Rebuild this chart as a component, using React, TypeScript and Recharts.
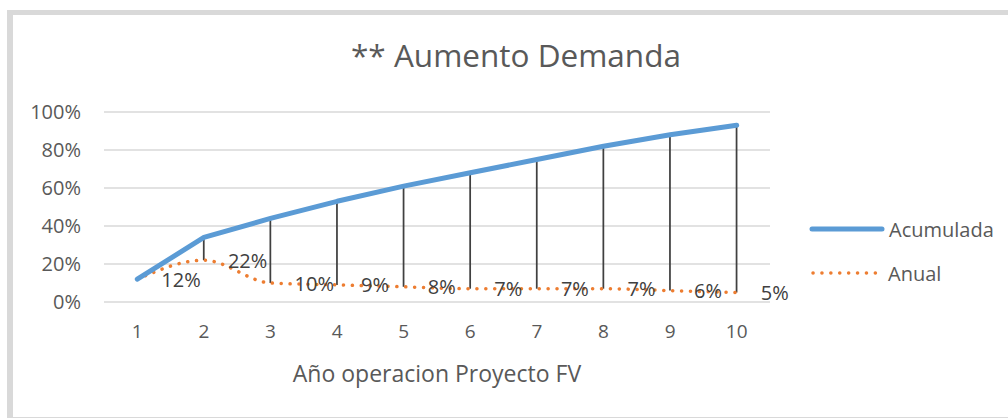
import React from "react";
import {
  ComposedChart,
  Line,
  Bar,
  XAxis,
  YAxis,
  CartesianGrid,
  Legend,
  LabelList,
  Label,
} from "recharts";

const years = ["1", "2", "3", "4", "5", "6", "7", "8", "9", "10"];
const acumulada = [12, 34, 44, 53, 61, 68, 75, 82, 88, 93];
const anual = [12, 22, 10, 9, 8, 7, 7, 7, 6, 5];
const yTicks = [0, 20, 40, 60, 80, 100];

const TITLE = "** Aumento Demanda";
const X_TITLE = "Año operacion Proyecto FV";

const BLUE = "#5B9BD5";
const ORANGE = "#ED7D31";
const TEXT = "#595959";
const FONT = "'Open Sans', sans-serif";

const data = years.map((y, i) => ({
  year: y,
  acumulada: acumulada[i],
  anual: anual[i],
  range: [anual[i], acumulada[i]],
}));

const HighLow = (props: any) => {
  const { x, y, width, height } = props;
  if (x == null || y == null) return null;
  const cx = x + width / 2;
  return (
    <line x1={cx} x2={cx} y1={y} y2={y + height} stroke="#404040" strokeWidth={1.75} />
  );
};

const AnualLabel = (props: any) => {
  const { x, y, value } = props;
  return (
    <text
      x={x + 24}
      y={y}
      dominantBaseline="central"
      fontSize={20}
      fontFamily={FONT}
      fill="#404040"
    >
      {value}%
    </text>
  );
};

const LegendContent = () => (
  <svg width={200} height={80} style={{ display: "block" }}>
    <line x1={7} x2={77} y1={18} y2={18} stroke={BLUE} strokeWidth={5} strokeLinecap="round" />
    <text x={84} y={18} dominantBaseline="central" fontSize={20} fontFamily={FONT} fill={TEXT}>
      Acumulada
    </text>
    <line
      x1={8}
      x2={72}
      y1={62}
      y2={62}
      stroke={ORANGE}
      strokeWidth={3.5}
      strokeLinecap="round"
      strokeDasharray="0.1 8.8"
    />
    <text x={83} y={62} dominantBaseline="central" fontSize={20} fontFamily={FONT} fill={TEXT}>
      Anual
    </text>
  </svg>
);

export default function App() {
  return (
    <div style={{ position: "relative", width: 1008, height: 418, overflow: "hidden" }}>
      <style>{`body{margin:0;overflow:hidden;}`}</style>
      <div
        style={{
          position: "absolute",
          left: 7,
          top: 10,
          width: 1030,
          height: 413,
          boxSizing: "border-box",
          borderTop: "5px solid #d9d9d9",
          borderLeft: "6px solid #d9d9d9",
          borderBottom: "6px solid #d9d9d9",
          background: "#fff",
        }}
      />
      <svg
        width={1008}
        height={418}
        style={{ position: "absolute", left: 0, top: 0, pointerEvents: "none" }}
      >
        <text x={516} y={67} textAnchor="middle" fontSize={31.5} fontFamily={FONT} fill={TEXT}>
          {TITLE}
        </text>
      </svg>
      <div style={{ position: "absolute", left: 0, top: 0 }}>
        <ComposedChart
          width={1008}
          height={418}
          data={data}
          margin={{ top: 112, right: 238, bottom: 32, left: 44 }}
        >
          <CartesianGrid vertical={false} stroke="#d9d9d9" strokeWidth={1.5} />
          <XAxis
            dataKey="year"
            axisLine={false}
            tickLine={false}
            tickSize={6}
            tickMargin={17}
            height={84}
            tick={{ fontSize: 19, fontFamily: FONT, fill: TEXT }}
            interval={0}
          >
            <Label
              value={X_TITLE}
              position="insideBottom"
              offset={4}
              style={{ fontSize: 23, fontFamily: FONT, fill: TEXT }}
            />
          </XAxis>
          <YAxis
            width={60}
            domain={[0, 100]}
            ticks={yTicks}
            axisLine={false}
            tickLine={false}
            tickSize={6}
            tickMargin={17}
            tickFormatter={(v: number) => `${v}%`}
            tick={{ fontSize: 20, fontFamily: FONT, fill: TEXT }}
          />
          <Legend
            layout="horizontal"
            verticalAlign="middle"
            align="center"
            wrapperStyle={{ left: 805, top: 211, width: 200, height: 80 }}
            content={<LegendContent />}
          />
          <Bar dataKey="range" shape={<HighLow />} isAnimationActive={false} legendType="none" />
          <Line
            type="monotone"
            dataKey="anual"
            stroke={ORANGE}
            strokeWidth={3.5}
            strokeLinecap="round"
            strokeDasharray="0.1 8.8"
            dot={false}
            activeDot={false}
            isAnimationActive={false}
          >
            <LabelList dataKey="anual" content={<AnualLabel />} />
          </Line>
          <Line
            type="linear"
            dataKey="acumulada"
            stroke={BLUE}
            strokeWidth={5}
            strokeLinecap="round"
            strokeLinejoin="round"
            dot={false}
            activeDot={false}
            isAnimationActive={false}
          />
        </ComposedChart>
      </div>
    </div>
  );
}
